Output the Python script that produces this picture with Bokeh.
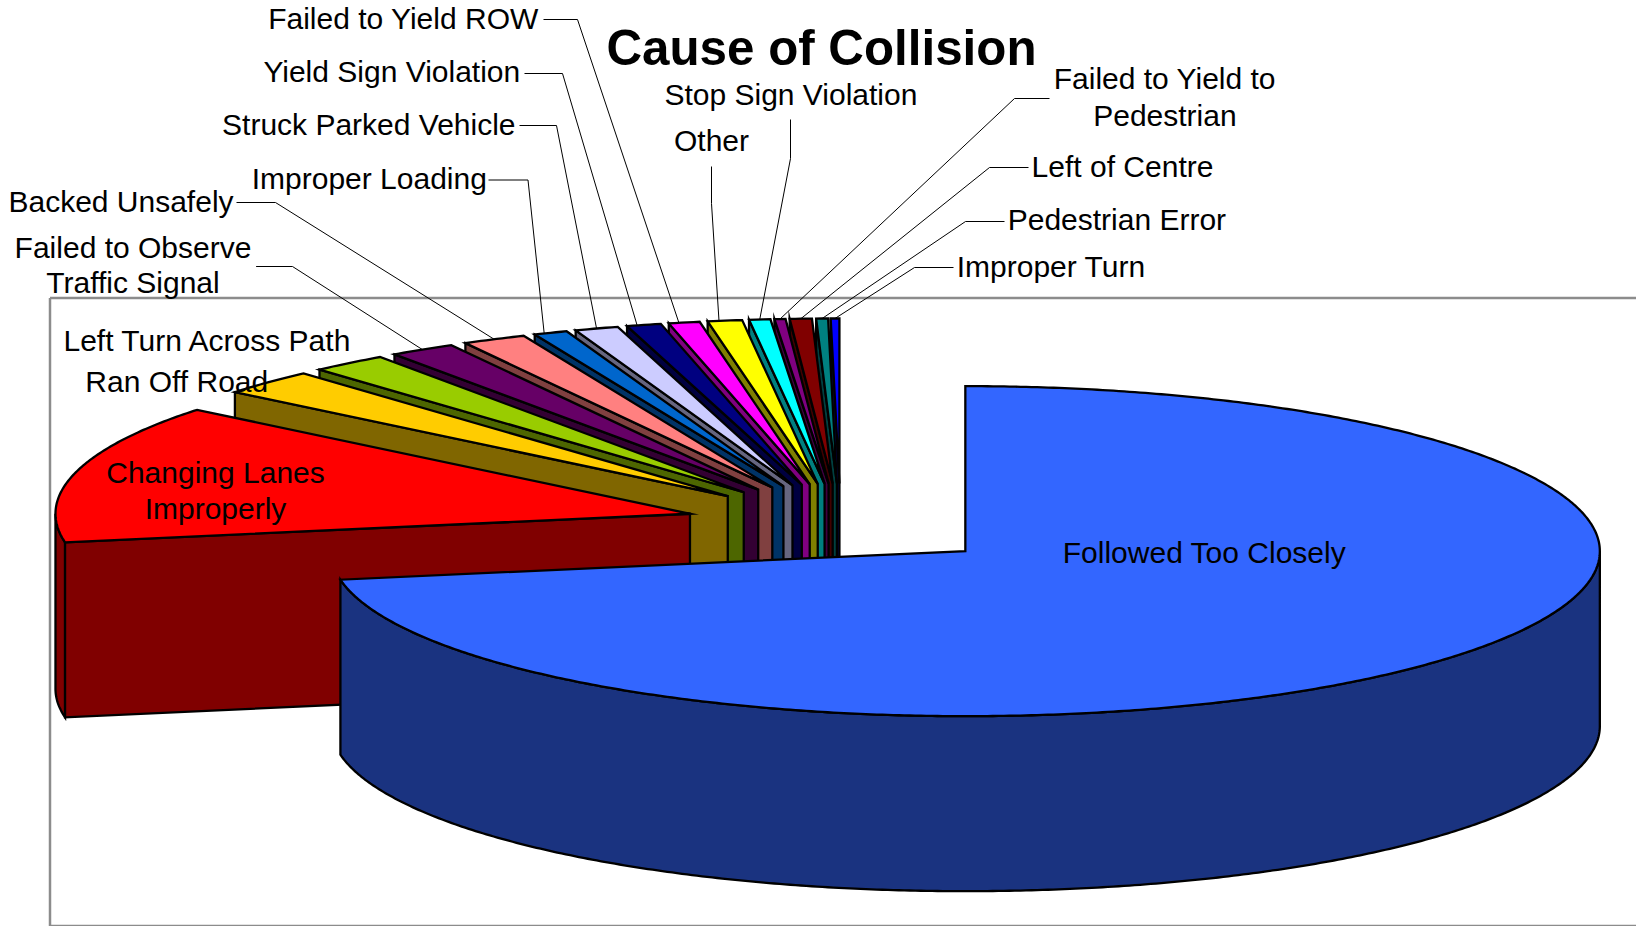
import numpy as np
from bokeh.plotting import figure
from bokeh.models import Range1d, ColumnDataSource
from bokeh.core.properties import value
from bokeh.embed import file_html
from bokeh.resources import INLINE

# ---- data: share of collisions (%), clockwise from 12 o'clock
categories = ["Followed Too Closely", "Changing Lanes Improperly", "Ran Off Road",
              "Left Turn Across Path", "Failed to Observe Traffic Signal", "Backed Unsafely",
              "Improper Loading", "Struck Parked Vehicle", "Yield Sign Violation",
              "Failed to Yield ROW", "Other", "Stop Sign Violation",
              "Failed to Yield to Pedestrian", "Left of Centre", "Pedestrian Error", "Improper Turn"]
shares = [72.22, 13.61, 2.5, 1.94, 1.68, 1.625, 0.86, 1.11, 0.875, 0.79, 0.875, 0.54, 0.28, 0.56, 0.30, 0.22]
colors = ["#3366FF", "#FF0000", "#FFCC00", "#99CC00", "#660066", "#FF8080", "#0066CC", "#CCCCFF",
          "#000080", "#FF00FF", "#FFFF00", "#00FFFF", "#800080", "#800000", "#008080", "#0000FF"]

# ---- layout
W, H = 1636, 926
CX, CY = 840.0, 523.4      # pie centre before explosion
RX, RY = 634.5, 165.0      # radii of the top ellipse
DEPTH = 175.0
EX_MAIN, EX_REST = 163.0, 155.5   # explosion of the large slice and of the others
FONT = value("Liberation Sans")
LABEL_SIZE = "30px"

# label text lines: (text, centre x, centre y)
label_lines = [
    ("Failed to Yield ROW", 403, 18), ("Yield Sign Violation", 391.3, 71),
    ("Struck Parked Vehicle", 368.3, 124), ("Improper Loading", 368.8, 178),
    ("Backed Unsafely", 120.5, 201.4), ("Failed to Observe", 132.5, 246.5),
    ("Traffic Signal", 132.5, 282), ("Left Turn Across Path", 207.5, 340),
    ("Ran Off Road", 176.3, 381), ("Changing Lanes", 215, 472), ("Improperly", 215, 508),
    ("Followed Too Closely", 1204, 552), ("Stop Sign Violation", 790.4, 94),
    ("Other", 711, 140), ("Failed to Yield to", 1164.4, 78.3), ("Pedestrian", 1164.4, 114.8),
    ("Left of Centre", 1122, 166), ("Pedestrian Error", 1116.4, 219), ("Improper Turn", 1050.7, 266),
]
# leader start and elbow per category
leaders = {
    "Failed to Observe Traffic Signal": [(255.6, 266), (292, 266)],
    "Backed Unsafely": [(236, 202), (275, 202)],
    "Improper Loading": [(488, 179.5), (527.5, 179.5)],
    "Struck Parked Vehicle": [(519, 125), (556, 125)],
    "Yield Sign Violation": [(524, 73), (562, 73)],
    "Failed to Yield ROW": [(543, 19), (577, 19)],
    "Other": [(711, 166), (711, 203)],
    "Stop Sign Violation": [(790, 119), (790, 158)],
    "Failed to Yield to Pedestrian": [(1049, 98), (1014, 98)],
    "Left of Centre": [(1028, 167), (989, 167)],
    "Pedestrian Error": [(1004, 221), (965, 221)],
    "Improper Turn": [(953, 267), (914, 267)],
}
# where along a slice's outer edge its leader lands (0 = left end, 1 = right end); default is the middle
leader_anchor = {"Improper Loading": 0.3, "Yield Sign Violation": 0.3,
                 "Failed to Yield ROW": 0.33, "Other": 0.33}


def dim(hex_color):
    r, g, b = (int(hex_color[i:i + 2], 16) for i in (1, 3, 5))
    return "#%02X%02X%02X" % ((r + 1) // 2, (g + 1) // 2, (b + 1) // 2)


p = figure(width=W, height=H, output_backend="svg", toolbar_location=None,
           x_range=Range1d(0, W), y_range=Range1d(H, 0),
           x_axis_type=None, y_axis_type=None, min_border=0,
           background_fill_color="white", border_fill_color="white", outline_line_color=None)
p.grid.visible = False

# plot-area frame
p.line([49.5, 1640, 1640, 49.5, 49.5], [297.5, 297.5, 925.5, 925.5, 297.5],
       line_color="#8C8C8C", line_width=2.5)

total = sum(shares)
edges = np.concatenate([[0.0], np.cumsum(shares)]) / total * 360.0
stroke = dict(line_color="black", line_width=2.3, line_join="miter")

slices = []
for i, (name, col) in enumerate(zip(categories, colors)):
    s, e = edges[i], edges[i + 1]
    mid = np.radians((s + e) / 2)
    ex = EX_MAIN if i == 0 else EX_REST
    ax = CX + ex * np.sin(mid)
    ay = CY - ex * RY / RX * np.cos(mid)
    slices.append((i, s, e, ax, ay, col, name))


def rim(ax, ay, a, b, drop=0.0):
    th = np.radians(np.linspace(a, b, max(2, int(abs(b - a) * 2) + 1)))
    return ax + RX * np.sin(th), ay - RY * np.cos(th) + drop


# paint from the back slices to the front, the large slice last
for i, s, e, ax, ay, col, name in sorted(slices, key=lambda t: (t[0] == 0, -t[0])):
    side = dim(col)
    lo, hi = max(s, 90.0), min(e, 270.0)
    if lo < hi:
        xs, ys = rim(ax, ay, lo, hi)
        xd, yd = rim(ax, ay, hi, lo, DEPTH)
        p.patch(np.concatenate([xs, xd]), np.concatenate([ys, yd]), fill_color=side, **stroke)
    for ang, show in ((s, 180 < s < 360), (e, 0 < e < 180)):
        if show:
            ex, ey = rim(ax, ay, ang, ang)
            p.patch([ax, ex[0], ex[0], ax], [ay, ey[0], ey[0] + DEPTH, ay + DEPTH],
                    fill_color=side, **stroke)
    xs, ys = rim(ax, ay, s, e)
    p.patch(np.concatenate([[ax], xs]), np.concatenate([[ay], ys]), fill_color=col, **stroke)

# leader lines end on each slice's outer edge
for i, s, e, ax, ay, col, name in slices:
    if name in leaders:
        f = s + leader_anchor.get(name, 0.5) * (e - s)
        mx, my = rim(ax, ay, f, f)
        pts = leaders[name] + [(mx[0], my[0])]
        p.line([q[0] for q in pts], [q[1] for q in pts], line_color="black", line_width=1)

src = ColumnDataSource(dict(t=[l[0] for l in label_lines], x=[l[1] for l in label_lines],
                            y=[l[2] for l in label_lines]))
p.text("x", "y", text="t", source=src, text_font=FONT, text_font_size=value(LABEL_SIZE),
       text_align="center", text_baseline="middle", text_color="black")
p.text([821], [47], text=["Cause of Collision"], text_font=FONT, text_font_size=value("49.3px"),
       text_font_style="bold", text_align="center", text_baseline="middle", text_color="black")

open("out.html", "w").write(file_html(p, INLINE))
